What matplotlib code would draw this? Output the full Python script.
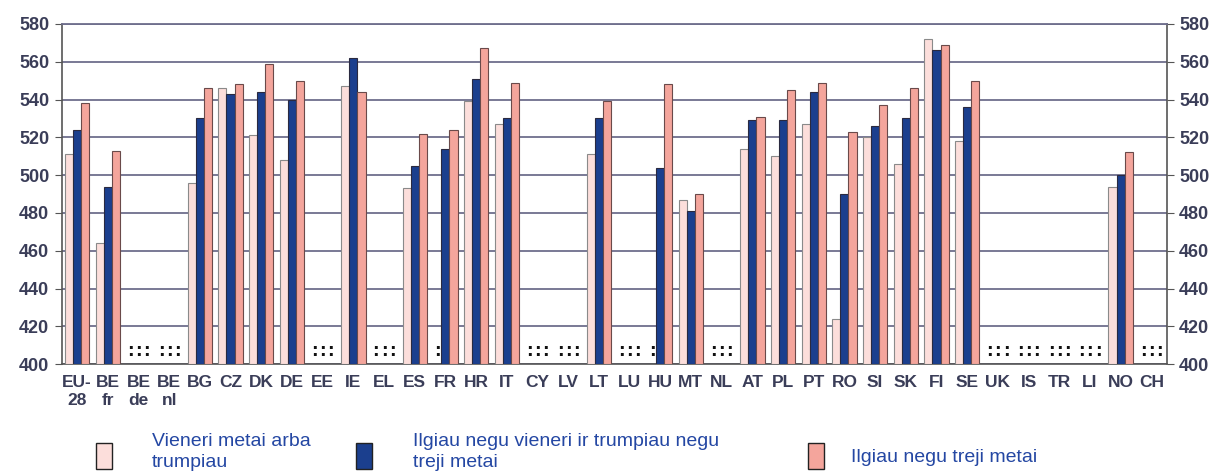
import numpy as np
import matplotlib
matplotlib.use("Agg")
import matplotlib.pyplot as plt
from matplotlib.patches import Rectangle

nan = np.nan

# country groups (two-line labels where the original wraps)
categories = ["EU-\n28", "BE\nfr", "BE\nde", "BE\nnl", "BG", "CZ", "DK", "DE", "EE", "IE",
              "EL", "ES", "FR", "HR", "IT", "CY", "LV", "LT", "LU", "HU", "MT", "NL",
              "AT", "PL", "PT", "RO", "SI", "SK", "FI", "SE", "UK", "IS", "TR", "LI",
              "NO", "CH"]

# one year or less
short_stay = [511, 464, nan, nan, 496, 546, 521, 508, nan, 547,
              nan, 493, nan, 539, 527, nan, nan, 511, nan, nan, 487, nan,
              514, 510, 527, 424, 520, 506, 572, 518, nan, nan, nan, nan,
              494, nan]
# more than one year, less than three
mid_stay = [524, 494, nan, nan, 530, 543, 544, 540, nan, 562,
            nan, 505, 514, 551, 530, nan, nan, 530, nan, 504, 481, nan,
            529, 529, 544, 490, 526, 530, 566, 536, nan, nan, nan, nan,
            500, nan]
# more than three years
long_stay = [538, 513, nan, nan, 546, 548, 559, 550, nan, 544,
             nan, 522, 524, 567, 549, nan, nan, 539, nan, 548, 490, nan,
             531, 545, 549, 523, 537, 546, 569, 550, nan, nan, nan, nan,
             512, nan]

series_labels = ["Vieneri metai arba\ntrumpiau",
                 "Ilgiau negu vieneri ir trumpiau negu\ntreji metai",
                 "Ilgiau negu treji metai"]
colors = ["#fcdedb", "#1b3f8e", "#f4a59c"]
edges = ["#8a8a8a", "#2a2a40", "#6a4a4a"]

y_ticks = list(range(400, 581, 20))

label_font = ["Liberation Sans", "DejaVu Sans"]
tick_color = "#3a3d58"
legend_color = "#2447a3"

fig = plt.figure(figsize=(12.13, 4.75), dpi=100)
ax = fig.add_axes([0.0509, 0.2331, 0.9109, 0.7166])

x = np.arange(len(categories))
w = 0.265
offsets = [-w, 0, w]
for vals, off, c, ec in zip([short_stay, mid_stay, long_stay], offsets, colors, edges):
    v = np.array(vals, dtype=float)
    ok = ~np.isnan(v)
    ax.bar(x[ok] + off, v[ok] - 400, bottom=400, width=w, color=c,
           edgecolor=ec, linewidth=0.8, zorder=3)
    for xi in x[~ok]:
        ax.text(xi + off, 407, ":", ha="center", va="center", fontsize=12,
                fontweight="bold", color="#111111", zorder=4)

ax.set_xlim(-0.5, len(categories) - 0.5)
ax.set_ylim(400, 580)
ax.set_yticks(y_ticks)
ax.grid(axis="y", color="#6e6e8c", linewidth=1.3, zorder=1)
ax.set_axisbelow(True)

ax.set_xticks(x)
ax.set_xticklabels(categories, family=label_font, fontsize=12.5,
                   fontweight="bold", color=tick_color, linespacing=1.25)
ax.tick_params(axis="x", length=0, pad=8)
ax.tick_params(axis="y", which="both", left=True, right=True, labelleft=True,
               labelright=True, length=5, color="#555555", pad=4)
for lab in ax.get_yticklabels():
    lab.set_family(label_font)
    lab.set_fontsize(13)
    lab.set_fontweight("bold")
    lab.set_color(tick_color)

for side in ["left", "right", "bottom"]:
    ax.spines[side].set_color("#555555")
    ax.spines[side].set_linewidth(1.2)
ax.spines["top"].set_color("#6e6e8c")
ax.spines["top"].set_linewidth(1.3)

# legend placed by hand like the original layout
box_x = [96, 356, 808]
text_x = [152, 413, 851]
text_y = [452, 452, 457]
for bx, tx, ty, lab, c in zip(box_x, text_x, text_y, series_labels, colors):
    fig.patches.append(Rectangle((bx / 1213, 1 - 469 / 475), 16 / 1213, 26 / 475,
                                 transform=fig.transFigure, facecolor=c,
                                 edgecolor="#222222", linewidth=1.0))
    fig.text(tx / 1213, 1 - ty / 475, lab, ha="left", va="center",
             family=label_font, fontsize=14, color=legend_color, linespacing=1.3)

fig.savefig("out.png", dpi=100, facecolor="white")
